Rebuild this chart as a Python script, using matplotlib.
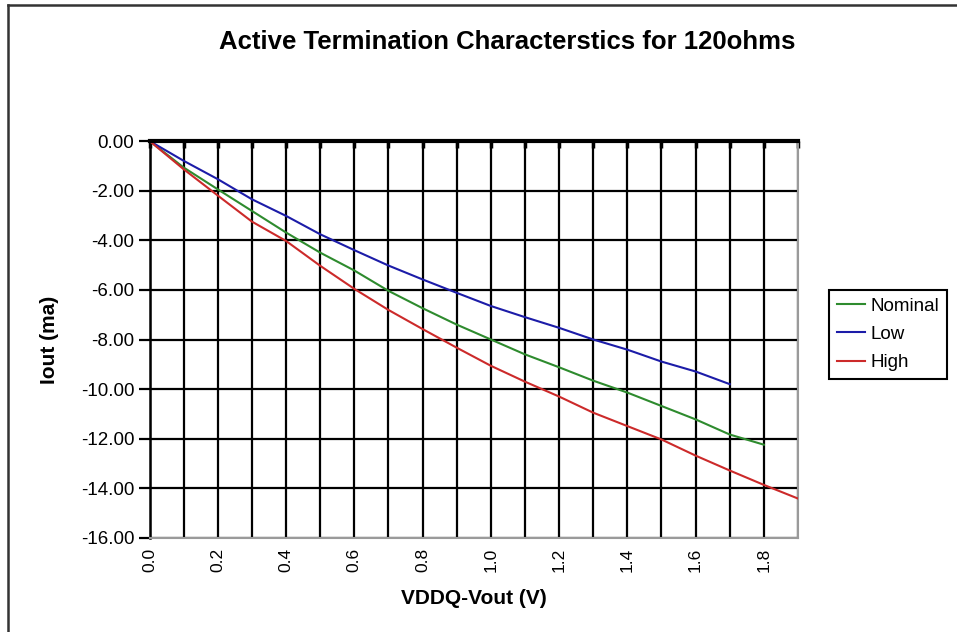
import matplotlib
matplotlib.use("Agg")
import matplotlib.pyplot as plt
from matplotlib.lines import Line2D

plt.rcParams['font.family'] = ['Liberation Sans', 'DejaVu Sans']

# Category axis: VDDQ-Vout in volts
voltage = [0.0, 0.1, 0.2, 0.3, 0.4, 0.5, 0.6, 0.7, 0.8, 0.9,
           1.0, 1.1, 1.2, 1.3, 1.4, 1.5, 1.6, 1.7, 1.8, 1.9]

# Output current (mA) per process corner
nominal = [0.0, -1.07, -1.95, -2.82, -3.69, -4.50, -5.22, -6.04, -6.74, -7.40,
           -8.00, -8.60, -9.12, -9.66, -10.14, -10.68, -11.22, -11.83, -12.24]
low = [0.0, -0.80, -1.54, -2.35, -3.02, -3.76, -4.40, -5.02, -5.58, -6.12,
       -6.65, -7.10, -7.53, -8.00, -8.41, -8.89, -9.29, -9.80]
high = [0.0, -1.14, -2.20, -3.25, -4.03, -5.03, -5.96, -6.81, -7.58, -8.33,
        -9.06, -9.70, -10.30, -10.95, -11.49, -12.03, -12.68, -13.28, -13.86, -14.41]

y_ticks = [0, -2, -4, -6, -8, -10, -12, -14, -16]

W, H = 957, 632
fig = plt.figure(figsize=(W / 100, H / 100), dpi=100)
fig.patch.set_facecolor('white')

# plot area in pixels
left, right, top, bottom = 149.6, 798.0, 141.0, 538.0
ax = fig.add_axes([left / W, 1 - bottom / H, (right - left) / W, (bottom - top) / H])

ax.set_xlim(voltage[0], voltage[-1])
ax.set_ylim(-16, 0)

# gridlines
ax.set_xticks(voltage)
ax.set_xticklabels([f"{v:.1f}" if i % 2 == 0 else "" for i, v in enumerate(voltage)],
                   rotation=90, fontsize=12.5)
ax.set_yticks(y_ticks)
ax.set_yticklabels([f"{v:.2f}" for v in y_ticks], fontsize=13.5)
ax.grid(True, color='black', linewidth=1.6, zorder=1)
ax.set_axisbelow(True)

# x axis crosses at 0 (top), labels stay at the bottom
ax.tick_params(axis='x', which='both', bottom=False, top=True, direction='in',
               length=5, width=2.5, color='black', labelbottom=True, labeltop=False, pad=7)
ax.tick_params(axis='y', direction='out', length=8, width=1.6, color='black', pad=3)

for side in ['right', 'bottom']:
    ax.spines[side].set_color('#9a9a9a')
    ax.spines[side].set_linewidth(1.5)
ax.spines['left'].set_color('black')
ax.spines['left'].set_linewidth(1.8)
ax.spines['top'].set_color('black')
ax.spines['top'].set_linewidth(3.0)
ax.spines['top'].set_zorder(5)

ax.plot(voltage[:len(nominal)], nominal, color='#2e8b2e', lw=1.5, label='Nominal', zorder=3)
ax.plot(voltage[:len(low)], low, color='#1c1ca8', lw=1.5, label='Low', zorder=3)
ax.plot(voltage[:len(high)], high, color='#cc2a2a', lw=1.5, label='High', zorder=3)

ax.set_xlabel('VDDQ-Vout (V)', fontsize=15, fontweight='bold', labelpad=12)
ax.set_ylabel('Iout (ma)', fontsize=15, fontweight='bold', labelpad=16)

fig.text(507 / W, 1 - 42 / H, 'Active Termination Characterstics for 120ohms',
         ha='center', va='center', fontsize=18.5, fontweight='bold')

leg = ax.legend(loc='upper left', bbox_to_anchor=(829 / W, 1 - 290 / H),
                bbox_transform=fig.transFigure, fontsize=13.5, frameon=True,
                fancybox=False, framealpha=1, edgecolor='black', borderpad=0.4,
                handlelength=1.5, handletextpad=0.3, labelspacing=0.6,
                borderaxespad=0)
leg.get_frame().set_linewidth(1.5)

# chart frame
fig.add_artist(Line2D([8 / W, 8 / W], [0, 1 - 5 / H], transform=fig.transFigure,
                      color='#333333', lw=1.8))
fig.add_artist(Line2D([8 / W, 1], [1 - 5 / H, 1 - 5 / H], transform=fig.transFigure,
                      color='#333333', lw=1.8))

fig.savefig('out.png', dpi=100, facecolor='white')
